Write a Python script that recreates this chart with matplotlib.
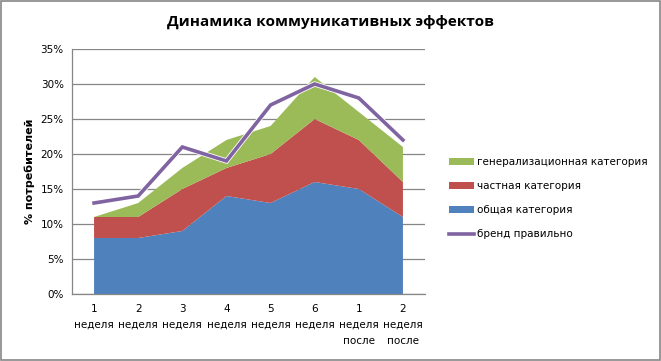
import matplotlib

matplotlib.use("Agg")
import matplotlib.pyplot as plt  # noqa: E402
import matplotlib.patheffects as pe  # noqa: E402
from matplotlib.patches import Rectangle  # noqa: E402
from matplotlib.ticker import FuncFormatter, MultipleLocator  # noqa: E402

weeks = ["1\nнеделя", "2\nнеделя", "3\nнеделя", "4\nнеделя", "5\nнеделя", "6\nнеделя",
         "1\nнеделя\nпосле", "2\nнеделя\nпосле"]
general = [8, 8, 9, 14, 13, 16, 15, 11]          # общая категория
particular = [3, 3, 6, 4, 7, 9, 7, 5]            # частная категория
generalizing = [0, 2, 3, 4, 4, 6, 4, 5]          # генерализационная категория
brand_correct = [13, 14, 21, 19, 27, 30, 28, 22]  # бренд правильно

BLUE = "#4F81BD"
RED = "#C0504D"
GREEN = "#9BBB59"
PURPLE = "#8064A2"
GRID = "#868686"

plt.rcParams["font.family"] = ["DejaVu Sans"]

fig = plt.figure(figsize=(6.61, 3.61), dpi=100)
ax = fig.add_axes([72 / 661, 1 - 294 / 361, 353 / 661, 245 / 361])

x = list(range(len(weeks)))
polys = ax.stackplot(x, general, particular, generalizing,
                     colors=[BLUE, RED, GREEN],
                     labels=["общая категория", "частная категория", "генерализационная категория"],
                     linewidth=0)
line, = ax.plot(x, brand_correct, color=PURPLE, linewidth=2.6, label="бренд правильно",
                solid_joinstyle="miter", zorder=5)
line.set_path_effects([pe.Stroke(linewidth=3.8, foreground="white"), pe.Normal()])

ax.set_xlim(-0.5, len(weeks) - 0.5)
ax.set_ylim(0, 35)
ax.yaxis.set_major_locator(MultipleLocator(5))
ax.yaxis.set_major_formatter(FuncFormatter(lambda v, _: f"{v:.0f}%"))
ax.set_xticks(x)
ax.set_xticklabels(weeks, fontsize=7.5, linespacing=1.75)
ax.tick_params(axis="y", labelsize=7.5, length=0, pad=6)
ax.tick_params(axis="x", length=0, pad=7)
ax.grid(axis="y", color=GRID, linewidth=0.9)
ax.set_axisbelow(True)
for side in ["top", "right"]:
    ax.spines[side].set_visible(False)
for side in ["left", "bottom"]:
    ax.spines[side].set_color(GRID)
    ax.spines[side].set_linewidth(0.9)

ax.set_ylabel("% потребителей", fontsize=8, weight="bold", labelpad=4)
fig.text(330 / 661, 1 - 22 / 361, "Динамика коммуникативных эффектов",
         ha="center", va="center", fontsize=11, weight="bold", family="Open Sans")

handles = [polys[2], polys[1], polys[0], line]
labels = [h.get_label() for h in handles]
fig.legend(handles, labels, loc="center left", bbox_to_anchor=(440 / 661, 1 - 198 / 361),
           frameon=False, fontsize=7.5, handlelength=2.4, handleheight=0.6,
           labelspacing=1.35, handletextpad=0.3)

fig.patches.append(Rectangle((0.001, 0.002), 0.997, 0.995, transform=fig.transFigure,
                             fill=False, edgecolor=GRID, linewidth=1.2))

fig.savefig("out.png", dpi=100)
